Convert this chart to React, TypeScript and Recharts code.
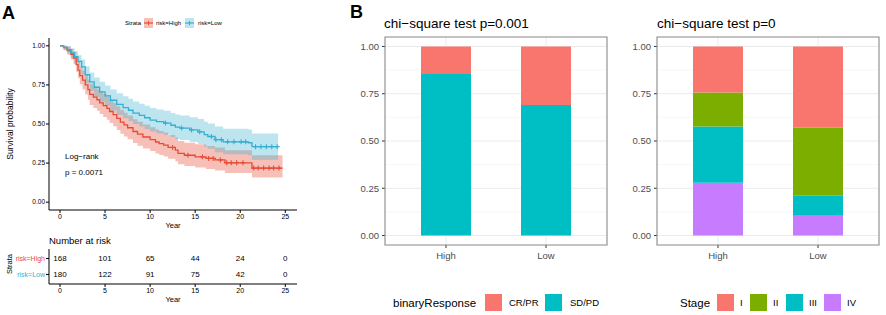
import React from 'react';
import {
  ComposedChart,
  BarChart,
  Bar,
  Line,
  Area,
  Scatter,
  XAxis,
  YAxis,
  CartesianGrid,
} from 'recharts';

const FONT = '"Liberation Sans", Arial, Helvetica, sans-serif';

// ---------- Panel A: Kaplan-Meier ----------
const highTime = [0, 0.4, 0.8, 1.2, 1.5, 1.8, 2.0, 2.2, 2.5, 2.8, 3.1, 3.3, 3.7, 4.1, 4.4, 4.8, 5.2, 5.5, 5.9, 6.3, 6.7, 7.1, 7.5, 8.1, 8.6, 9.2, 10.0, 10.6, 11.0, 11.5, 12.0, 12.8, 13.1, 13.8, 15.0, 16.2, 17.2, 18.3, 21.3, 24.7];
const highSurv = [1.0, 0.988, 0.97, 0.946, 0.922, 0.88, 0.845, 0.81, 0.78, 0.75, 0.72, 0.69, 0.672, 0.655, 0.635, 0.617, 0.6, 0.58, 0.56, 0.536, 0.512, 0.494, 0.476, 0.452, 0.435, 0.417, 0.4, 0.385, 0.375, 0.365, 0.35, 0.333, 0.312, 0.3, 0.29, 0.28, 0.27, 0.252, 0.218, 0.218];
const highUpper = [1.0, 1.0, 0.996, 0.98, 0.962, 0.928, 0.898, 0.866, 0.84, 0.812, 0.785, 0.758, 0.742, 0.726, 0.707, 0.69, 0.674, 0.655, 0.636, 0.613, 0.59, 0.572, 0.554, 0.531, 0.514, 0.497, 0.48, 0.465, 0.455, 0.445, 0.43, 0.413, 0.392, 0.38, 0.37, 0.36, 0.35, 0.332, 0.3, 0.3];
const highLower = [1.0, 0.971, 0.945, 0.913, 0.882, 0.833, 0.792, 0.754, 0.72, 0.688, 0.655, 0.622, 0.603, 0.585, 0.564, 0.545, 0.527, 0.506, 0.486, 0.462, 0.438, 0.42, 0.402, 0.378, 0.361, 0.344, 0.327, 0.312, 0.302, 0.292, 0.278, 0.262, 0.243, 0.232, 0.222, 0.212, 0.203, 0.186, 0.158, 0.158];
const highCensor = [12.5, 14.2, 15.8, 16.5, 17.0, 17.8, 18.5, 19.0, 19.6, 20.3, 21.5, 22.0, 22.6, 23.2, 23.7, 24.3];

const lowTime = [0, 0.4, 0.8, 1.2, 1.6, 2.0, 2.4, 2.8, 3.3, 3.8, 4.4, 5.0, 5.6, 6.3, 7.0, 7.6, 8.1, 8.8, 9.4, 10.0, 10.7, 11.5, 12.3, 12.8, 13.3, 14.4, 15.3, 16.0, 16.4, 17.2, 18.1, 20.9, 21.3, 24.2];
const lowSurv = [1.0, 0.99, 0.975, 0.955, 0.93, 0.9, 0.865, 0.815, 0.77, 0.735, 0.705, 0.68, 0.652, 0.625, 0.605, 0.588, 0.57, 0.555, 0.54, 0.525, 0.515, 0.506, 0.492, 0.48, 0.474, 0.462, 0.45, 0.432, 0.42, 0.4, 0.386, 0.38, 0.355, 0.355];
const lowUpper = [1.0, 1.0, 0.998, 0.985, 0.965, 0.94, 0.912, 0.87, 0.83, 0.798, 0.77, 0.747, 0.721, 0.696, 0.677, 0.661, 0.644, 0.63, 0.616, 0.602, 0.592, 0.584, 0.571, 0.56, 0.554, 0.543, 0.532, 0.515, 0.503, 0.484, 0.47, 0.465, 0.44, 0.44];
const lowLower = [1.0, 0.976, 0.952, 0.925, 0.893, 0.858, 0.818, 0.763, 0.712, 0.675, 0.643, 0.617, 0.587, 0.558, 0.537, 0.519, 0.5, 0.484, 0.468, 0.452, 0.441, 0.432, 0.417, 0.404, 0.398, 0.385, 0.372, 0.354, 0.342, 0.32, 0.306, 0.3, 0.272, 0.272];
const lowCensor = [11.7, 13.5, 14.6, 15.5, 16.8, 17.3, 17.9, 18.6, 19.3, 20.1, 20.6, 21.7, 22.3, 22.9, 23.5, 24.1];

const yearTicks = [0, 5, 10, 15, 20, 25];
const survTicks = [0, 0.25, 0.5, 0.75, 1];
const riskHigh = [168, 101, 65, 44, 24, 0];
const riskLow = [180, 122, 91, 75, 42, 0];

// ---------- Panel B: stacked proportions ----------
const groups = ['High', 'Low'];
const respCRPR = [0.146, 0.309];
const respSDPD = [0.854, 0.691];
const stageI = [0.244, 0.43];
const stageII = [0.179, 0.36];
const stageIII = [0.298, 0.105];
const stageIV = [0.279, 0.105];
const propTicks = [0, 0.25, 0.5, 0.75, 1];
const propMinor = [0.125, 0.375, 0.625, 0.875];

const RED = '#E64B35';
const BLUE = '#35AFD1';

const kmRows = (t: number[], s: number[], lo: number[], hi: number[]) =>
  t.map((x, i) => ({ x, s: s[i], band: [lo[i], hi[i]] }));
const stepAt = (t: number[], s: number[], x: number) => {
  let v = s[0];
  for (let i = 0; i < t.length; i++) if (t[i] <= x) v = s[i];
  return v;
};
const highData = kmRows(highTime, highSurv, highLower, highUpper);
const lowData = kmRows(lowTime, lowSurv, lowLower, lowUpper);
const highCensorData = highCensor.map((x) => ({ x, s: stepAt(highTime, highSurv, x) }));
const lowCensorData = lowCensor.map((x) => ({ x, s: stepAt(lowTime, lowSurv, x) }));
const riskData = [
  ...yearTicks.map((x, i) => ({ x, row: 2, n: riskHigh[i] })),
  ...yearTicks.map((x, i) => ({ x, row: 1, n: riskLow[i] })),
];

const respData = groups.map((g, i) => ({ group: g, crpr: respCRPR[i], sdpd: respSDPD[i] }));
const stageData = groups.map((g, i) => ({ group: g, I: stageI[i], II: stageII[i], III: stageIII[i], IV: stageIV[i] }));

const plusShape = (color: string) => (props: any) => {
  const { cx, cy } = props;
  return (
    <path
      d={`M${cx - 2.5},${cy}H${cx + 2.5}M${cx},${cy - 2.5}V${cy + 2.5}`}
      stroke={color}
      strokeWidth={1.1}
      fill="none"
    />
  );
};

const riskText = (props: any) => (
  <text
    x={props.cx}
    y={props.cy}
    textAnchor="middle"
    dominantBaseline="central"
    fontSize={8}
    fontFamily={FONT}
    fill="#000"
  >
    {props.payload.n}
  </text>
);

const riskTick = (props: any) => {
  const { x, y, payload } = props;
  const isHigh = payload.value === 2;
  return (
    <text
      x={x}
      y={y}
      textAnchor="end"
      dominantBaseline="central"
      fontSize={7}
      fontFamily={FONT}
      fill={isHigh ? RED : BLUE}
    >
      {isHigh ? 'risk=High' : 'risk=Low'}
    </text>
  );
};

const kmTickStyle = { fontSize: 7, fill: '#000', fontFamily: FONT };
const barTickStyle = { fontSize: 9.5, fill: '#4D4D4D', fontFamily: FONT };

function StackChart(props: { left: number; data: any[]; keys: string[]; colors: string[] }) {
  const { left, data, keys, colors } = props;
  return (
    <div style={{ position: 'absolute', left, top: 0 }}>
      <BarChart width={280} height={262} data={data} margin={{ top: 37, right: 3, left: 0, bottom: 0 }}>
        <CartesianGrid stroke="#F3F3F3" strokeWidth={0.7} vertical={false} horizontalValues={propMinor} />
        <CartesianGrid stroke="#EBEBEB" strokeWidth={1} horizontalValues={propTicks} />
        <XAxis
          dataKey="group"
          padding={{ left: 11, right: 11 }}
          axisLine={false}
          tickLine={{ stroke: '#333' }}
          tickSize={3}
          tickMargin={4}
          tick={barTickStyle}
          height={17}
          interval={0}
        />
        <YAxis
          type="number"
          domain={[-0.05, 1.05]}
          ticks={propTicks}
          tickFormatter={(v: number) => v.toFixed(2)}
          width={55}
          axisLine={false}
          tickLine={{ stroke: '#333' }}
          tickSize={3}
          tickMargin={3}
          tick={barTickStyle}
          allowDataOverflow
          interval={0}
        />
        {keys.map((k, i) => (
          <Bar key={k} dataKey={k} stackId="a" fill={colors[i]} barSize={50} isAnimationActive={false} />
        ))}
      </BarChart>
    </div>
  );
}

export default function App() {
  return (
    <div
      style={{
        position: 'absolute',
        left: 0,
        top: 0,
        width: 886,
        height: 315,
        background: '#fff',
        fontFamily: FONT,
        overflow: 'hidden',
      }}
    >
      {/* KM curves */}
      <div style={{ position: 'absolute', left: 0, top: 0 }}>
        <ComposedChart width={300} height={232} margin={{ top: 38, right: 3, left: 0, bottom: 0 }}>
          <XAxis
            type="number"
            dataKey="x"
            domain={[-1.22, 26.3]}
            ticks={yearTicks}
            allowDataOverflow
            interval={0}
            height={22}
            tickSize={3}
            tickMargin={1}
            tick={kmTickStyle}
            axisLine={{ stroke: '#000', strokeWidth: 1 }}
            tickLine={{ stroke: '#000' }}
          />
          <YAxis
            type="number"
            domain={[-0.05, 1.05]}
            ticks={survTicks}
            tickFormatter={(v: number) => v.toFixed(2)}
            allowDataOverflow
            interval={0}
            width={49}
            tickSize={3}
            tickMargin={1}
            tick={{ ...kmTickStyle, fontSize: 6.5 }}
            axisLine={{ stroke: '#000', strokeWidth: 1 }}
            tickLine={{ stroke: '#000' }}
          />
          <Area data={highData} dataKey="band" type="stepAfter" stroke="none" fill={RED} fillOpacity={0.35} isAnimationActive={false} />
          <Area data={lowData} dataKey="band" type="stepAfter" stroke="none" fill={BLUE} fillOpacity={0.33} isAnimationActive={false} />
          <Line data={highData} dataKey="s" type="stepAfter" stroke={RED} strokeWidth={1.3} dot={false} isAnimationActive={false} />
          <Line data={lowData} dataKey="s" type="stepAfter" stroke={BLUE} strokeWidth={1.3} dot={false} isAnimationActive={false} />
          <Scatter data={highCensorData} dataKey="s" shape={plusShape(RED)} isAnimationActive={false} />
          <Scatter data={lowCensorData} dataKey="s" shape={plusShape(BLUE)} isAnimationActive={false} />
        </ComposedChart>
      </div>

      {/* Risk table */}
      <div style={{ position: 'absolute', left: 0, top: 240 }}>
        <ComposedChart width={300} height={70} margin={{ top: 9, right: 3, left: 0, bottom: 0 }}>
          <XAxis
            type="number"
            dataKey="x"
            domain={[-1.22, 26.3]}
            ticks={yearTicks}
            allowDataOverflow
            interval={0}
            height={26}
            tickSize={3}
            tickMargin={1}
            tick={kmTickStyle}
            axisLine={{ stroke: '#000', strokeWidth: 1 }}
            tickLine={{ stroke: '#000' }}
          />
          <YAxis
            type="number"
            domain={[0.4, 2.6]}
            ticks={[1, 2]}
            allowDataOverflow
            interval={0}
            width={49}
            tickSize={3}
            tickMargin={1}
            tick={riskTick}
            axisLine={{ stroke: '#000', strokeWidth: 1 }}
            tickLine={{ stroke: '#000' }}
          />
          <Scatter data={riskData} dataKey="row" shape={riskText} isAnimationActive={false} />
        </ComposedChart>
      </div>

      {/* Stacked bar charts */}
      <StackChart left={330} data={respData} keys={['sdpd', 'crpr']} colors={['#00BFC4', '#F8766D']} />
      <StackChart left={602} data={stageData} keys={['IV', 'III', 'II', 'I']} colors={['#C77CFF', '#00BFC4', '#7CAE00', '#F8766D']} />

      {/* Static annotations */}
      <svg
        width={886}
        height={315}
        style={{ position: 'absolute', left: 0, top: 0, pointerEvents: 'none' }}
        fontFamily={FONT}
      >
        <text x={2} y={19} fontSize={18} fontWeight="bold" fill="#000">A</text>
        <text x={350} y={18} fontSize={18} fontWeight="bold" fill="#000">B</text>

        {/* KM legend */}
        <text x={125} y={25} fontSize={6} fill="#000">Strata</text>
        <rect x={144} y={18} width={9} height={10} fill={RED} fillOpacity={0.35} />
        <line x1={144} x2={153} y1={23} y2={23} stroke={RED} strokeWidth={1.2} />
        <line x1={148.5} x2={148.5} y1={21} y2={25} stroke={RED} strokeWidth={1} />
        <text x={156} y={25} fontSize={6} fill="#000">risk=High</text>
        <rect x={185} y={18} width={9} height={10} fill={BLUE} fillOpacity={0.33} />
        <line x1={185} x2={194} y1={23} y2={23} stroke={BLUE} strokeWidth={1.2} />
        <line x1={189.5} x2={189.5} y1={21} y2={25} stroke={BLUE} strokeWidth={1} />
        <text x={198} y={25} fontSize={6} fill="#000">risk=Low</text>

        <text x={13} y={124} fontSize={8.5} fill="#000" textAnchor="middle" transform="rotate(-90 13 124)">Survival probability</text>
        <text x={65} y={159} fontSize={8} fill="#000">Log−rank</text>
        <text x={65} y={175} fontSize={8} fill="#000">p = 0.0071</text>
        <text x={173} y={228} fontSize={7.5} fill="#000" textAnchor="middle">Year</text>
        <text x={49} y={244} fontSize={9.5} fill="#000">Number at risk</text>
        <text x={12} y={264} fontSize={7.5} fill="#000" textAnchor="middle" transform="rotate(-90 12 264)">Strata</text>
        <text x={173} y={302} fontSize={7.5} fill="#000" textAnchor="middle">Year</text>

        {/* Bar chart titles and borders */}
        <text x={384} y={28} fontSize={13.5} fill="#000">chi−square test p=0.001</text>
        <text x={657} y={28} fontSize={13.5} fill="#000">chi−square test p=0</text>
        <rect x={385} y={37} width={222} height={208} fill="none" stroke="#888" strokeWidth={1} />
        <rect x={657} y={37} width={222} height={208} fill="none" stroke="#888" strokeWidth={1} />

        {/* Bar chart legends */}
        <text x={393} y={307} fontSize={11.5} fill="#000">binaryResponse</text>
        <rect x={485} y={294} width={17} height={17} fill="#F8766D" />
        <text x={509} y={306} fontSize={9.5} fill="#000">CR/PR</text>
        <rect x={545} y={294} width={17} height={17} fill="#00BFC4" />
        <text x={570} y={306} fontSize={9.5} fill="#000">SD/PD</text>

        <text x={680} y={307} fontSize={11.5} fill="#000">Stage</text>
        <rect x={717} y={294} width={17} height={17} fill="#F8766D" />
        <text x={740} y={306} fontSize={9.5} fill="#000">I</text>
        <rect x={750} y={294} width={17} height={17} fill="#7CAE00" />
        <text x={773} y={306} fontSize={9.5} fill="#000">II</text>
        <rect x={786} y={294} width={17} height={17} fill="#00BFC4" />
        <text x={809} y={306} fontSize={9.5} fill="#000">III</text>
        <rect x={824} y={294} width={17} height={17} fill="#C77CFF" />
        <text x={847} y={306} fontSize={9.5} fill="#000">IV</text>
      </svg>
    </div>
  );
}
